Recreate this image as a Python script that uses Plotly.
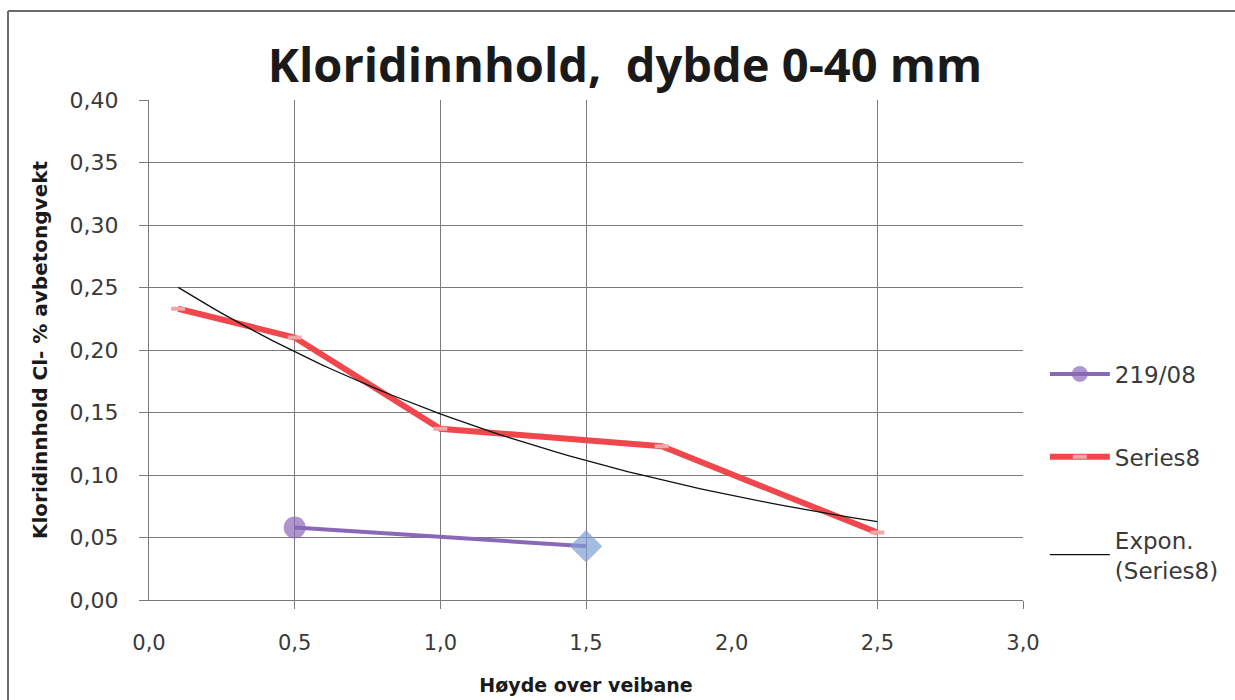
import numpy as np
import plotly.graph_objects as go

# ---- data ----
x_219 = [0.5, 1.5]
y_219 = [0.058, 0.043]

x_s8 = [0.1, 0.5, 1.0, 1.76, 2.5]
y_s8 = [0.233, 0.210, 0.137, 0.123, 0.054]

x_ticks = [0.0, 0.5, 1.0, 1.5, 2.0, 2.5, 3.0]
x_grid = [0.5, 1.0, 1.5, 2.5, 3.0]   # vertical gridline at 2,0 is absent in the scan
y_ticks = [0.0, 0.05, 0.10, 0.15, 0.20, 0.25, 0.30, 0.35, 0.40]

# exponential trendline fitted to Series8 (as Excel does)
b, ln_a = np.polyfit(np.array(x_s8), np.log(np.array(y_s8)), 1)
x_fit = np.linspace(min(x_s8), max(x_s8), 60)
y_fit = np.exp(ln_a) * np.exp(b * x_fit)

FONT = "DejaVu Sans"
GRID = "#7a7a7a"
TXT = "#3a3a3a"

fig = go.Figure()

fig.add_trace(go.Scatter(
    x=x_219, y=y_219, mode="lines+markers", name="219/08",
    legendgroup="a",
    line=dict(color="#8a68b8", width=4),
    marker=dict(symbol=["circle", "diamond"], size=[22, 25],
                color=["#8a68b8", "#7f9ed6"], line=dict(width=0)),
))
fig.add_trace(go.Scatter(
    x=x_s8, y=y_s8, mode="lines+markers", name="Series8",
    legendgroup="b",
    line=dict(color="#f0474c", width=6),
    marker=dict(symbol="line-ew", size=10, color="#f4a6a6",
                line=dict(color="#f4a6a6", width=4)),
))
fig.add_trace(go.Scatter(
    x=x_fit, y=y_fit, mode="lines", name="Expon.<br>(Series8)",
    legendgroup="c",
    line=dict(color="#111111", width=1.3),
))

# overlay axis just for the vertical gridlines / bottom ticks
fig.add_trace(go.Scatter(x=[0, 3], y=[0, 0], xaxis="x2", mode="none",
                         showlegend=False, hoverinfo="skip"))

fig.update_layout(
    width=1235, height=700,
    paper_bgcolor="white", plot_bgcolor="white",
    separators=", ",
    margin=dict(l=149, r=212, t=100, b=100, autoexpand=False),
    font=dict(family=FONT, color=TXT),
    title=dict(text="Kloridinnhold,\u00a0 dybde 0-40 mm",
               x=0.506, xanchor="center", y=0.907, yanchor="middle",
               font=dict(family="Open Sans", size=47, color="#1a1a1a", weight="bold")),
    xaxis=dict(range=[0, 3], tickvals=x_ticks, tickformat=".1f",
               showgrid=False, zeroline=False, ticks="",
               showline=True, linecolor=GRID, linewidth=1,
               ticklabelstandoff=24,
               tickfont=dict(size=21, color=TXT),
               title=dict(text="Høyde over veibane", standoff=24,
                          font=dict(size=19, color="#1a1a1a", weight="bold"))),
    xaxis2=dict(range=[0, 3], overlaying="x", side="bottom",
                tickvals=x_grid, showticklabels=False,
                showgrid=True, gridcolor=GRID, gridwidth=1,
                ticks="outside", ticklen=8, tickcolor=GRID,
                zeroline=False, showline=False),
    yaxis=dict(range=[0, 0.40], tickvals=y_ticks, tickformat=".2f",
               showgrid=True, gridcolor=GRID, gridwidth=1,
               zeroline=False, showline=True, linecolor=GRID, linewidth=1,
               ticks="outside", ticklen=9, tickcolor=GRID,
               ticklabelstandoff=16,
               tickfont=dict(size=22, color=TXT),
               title=dict(text="Kloridinnhold Cl- % avbetongvekt", standoff=16,
                          font=dict(size=20, color="#1a1a1a", weight="bold"))),
    legend=dict(x=1.025, xanchor="left", y=0.495, yanchor="top",
                font=dict(size=23, color=TXT),
                tracegroupgap=50, itemwidth=60,
                bgcolor="rgba(0,0,0,0)"),
    shapes=[
        dict(type="line", xref="paper", yref="paper",
             x0=(8 - 149) / 874, x1=(1235 - 149) / 874,
             y0=(600 - 11) / 500, y1=(600 - 11) / 500,
             line=dict(color="#6a6a6a", width=2)),
        dict(type="line", xref="paper", yref="paper",
             x0=(8 - 149) / 874, x1=(8 - 149) / 874,
             y0=(600 - 11) / 500, y1=(600 - 700) / 500,
             line=dict(color="#6a6a6a", width=2)),
    ],
)

fig.write_html("out.html")
